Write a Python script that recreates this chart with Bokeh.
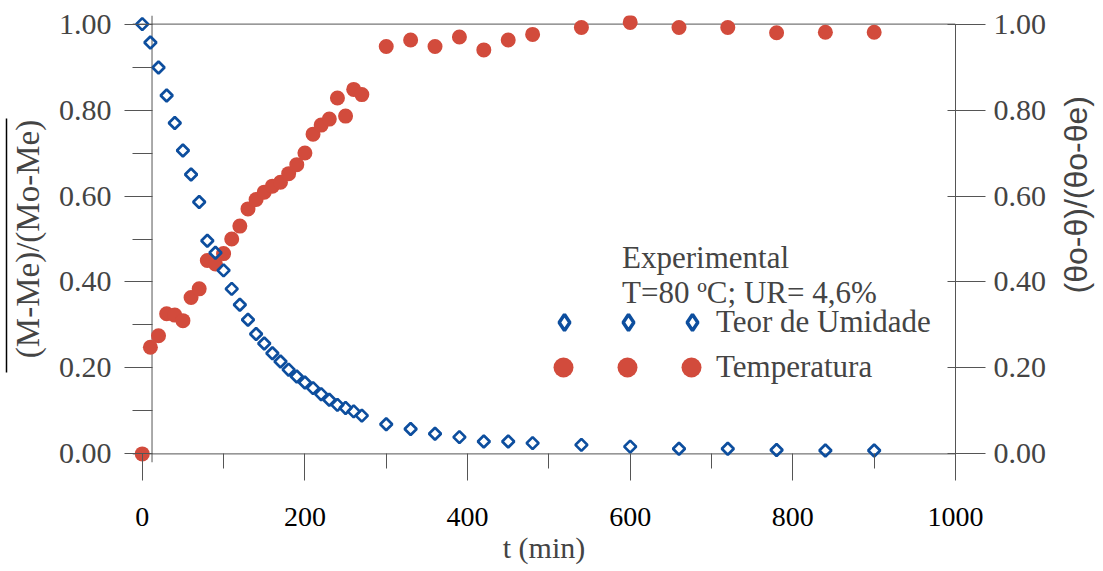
import math
from bokeh.plotting import figure
from bokeh.layouts import row
from bokeh.models import (LinearAxis, FixedTicker, NumeralTickFormatter, Span,
                          Label, Legend, LegendItem, Range1d)
from bokeh.embed import file_html
from bokeh.resources import INLINE

# ---------------- data ----------------
t_moist = [0, 10, 20, 30, 40, 50, 60, 70, 80, 90, 100, 110, 120, 130, 140, 150,
           160, 170, 180, 190, 200, 210, 220, 230, 240, 250, 260, 270,
           300, 330, 360, 390, 420, 450, 480, 540, 600, 660, 720, 780, 840, 900]
moisture = [1.000, 0.957, 0.899, 0.834, 0.770, 0.706, 0.650, 0.586, 0.496, 0.468,
            0.427, 0.384, 0.347, 0.312, 0.279, 0.257, 0.234, 0.215, 0.196, 0.180,
            0.166, 0.153, 0.139, 0.126, 0.114, 0.107, 0.099, 0.089,
            0.069, 0.058, 0.047, 0.039, 0.029, 0.029, 0.025, 0.021, 0.017,
            0.012, 0.012, 0.009, 0.008, 0.008]

t_temp = [0, 10, 20, 30, 40, 50, 60, 70, 80, 90, 100, 110, 120, 130, 140, 150,
          160, 170, 180, 190, 200, 210, 220, 230, 240, 250, 260, 270,
          300, 330, 360, 390, 420, 450, 480, 540, 600, 660, 720, 780, 840, 900]
temperature = [0.000, 0.248, 0.275, 0.326, 0.323, 0.310, 0.364, 0.384, 0.450, 0.442,
               0.466, 0.500, 0.530, 0.570, 0.592, 0.609, 0.623, 0.632, 0.652, 0.673,
               0.700, 0.744, 0.765, 0.779, 0.828, 0.786, 0.848, 0.836,
               0.948, 0.963, 0.948, 0.970, 0.940, 0.963, 0.976, 0.992, 1.004,
               0.992, 0.992, 0.980, 0.981, 0.981]

x_ticks = [0, 200, 400, 600, 800, 1000]
x_minor = [100, 300, 500, 700, 900]
y_ticks = [0.0, 0.2, 0.4, 0.6, 0.8, 1.0]
y_minor = [0.1, 0.3, 0.5, 0.7, 0.9]

series_names = ["Teor de Umidade", "Temperatura"]
header_lines = ["Experimental", "T=80 ºC; UR= 4,6%"]
left_title = "(M-Me)/(Mo-Me)"
right_title = "(θo-θ)/(θo-θe)"
x_title = "t (min)"

BLUE = "#0d4e9e"
RED = "#d24b3c"
SERIF = "Liberation Serif"
NAN = float("nan")

p = figure(width=1053, height=571, output_backend="svg", toolbar_location=None,
           x_range=Range1d(-12, 1000), y_range=Range1d(-0.02, 1.02),
           min_border_left=132, min_border_right=98, min_border_top=15,
           min_border_bottom=109)
p.grid.visible = False
p.outline_line_color = None
p.background_fill_color = "white"

# --- axes ---
xa = p.xaxis[0]
xa.ticker = FixedTicker(ticks=x_ticks, minor_ticks=x_minor)
xa.axis_line_color = None
xa.major_tick_in = 9
xa.major_tick_out = 18
xa.minor_tick_in = 9
xa.minor_tick_out = 6
xa.major_tick_line_color = "#555555"
xa.minor_tick_line_color = "#555555"
xa.major_label_text_font = SERIF
xa.major_label_text_font_size = "28px"
xa.major_label_text_color = "black"
xa.major_label_standoff = 27
xa.axis_label = x_title
xa.axis_label_text_font = SERIF
xa.axis_label_text_font_style = "normal"
xa.axis_label_text_font_size = "30px"
xa.axis_label_standoff = 2

ya = p.yaxis[0]
ya.ticker = FixedTicker(ticks=y_ticks, minor_ticks=y_minor)
ya.formatter = NumeralTickFormatter(format="0.00")
ya.axis_line_color = None
ya.major_tick_in = 20
ya.major_tick_out = 8
ya.minor_tick_in = 20
ya.minor_tick_out = 0
ya.major_tick_line_color = "#555555"
ya.minor_tick_line_color = "#555555"
ya.major_label_text_font = SERIF
ya.major_label_text_font_size = "30px"
ya.major_label_standoff = 13
ya.axis_label = left_title
ya.axis_label_text_font = SERIF
ya.axis_label_text_font_style = "normal"
ya.axis_label_text_font_size = "33px"
ya.axis_label_standoff = 10

# overline of the left label (fraction bar)
bar = LinearAxis(ticker=FixedTicker(ticks=[]), bounds=(0.19, 0.78),
                 axis_line_color="black", axis_line_width=1.5,
                 major_tick_line_color=None, minor_tick_line_color=None)
p.add_layout(bar, "left")

ra = LinearAxis(ticker=FixedTicker(ticks=y_ticks, minor_ticks=[]),
                formatter=NumeralTickFormatter(format="0.00"), bounds=(0, 1))
ra.axis_line_color = "#555555"
ra.major_tick_in = 8
ra.major_tick_out = 30
ra.major_tick_line_color = "#555555"
ra.minor_tick_line_color = None
ra.major_label_text_font = SERIF
ra.major_label_text_font_size = "30px"
ra.major_label_standoff = 8
p.add_layout(ra, "right")

# frame lines
p.add_layout(Span(location=12, dimension="height", line_color="#555555",
                  line_width=1, level="underlay"))
p.add_layout(Span(location=0, dimension="width", line_color="#555555",
                  line_width=1, level="underlay"))
p.add_layout(Span(location=1.0, dimension="width", line_color="#555555",
                  line_width=1, level="underlay"))

# --- data ---
p.scatter(t_temp, temperature, marker="circle", size=15, fill_color=RED,
          line_color=None)
p.scatter(t_moist, moisture, marker="square", size=8.5, angle=math.pi / 4,
          fill_color=None, line_color=BLUE, line_width=2.7)

# --- legend (legend-only renderers, nothing drawn in the frame) ---
leg_d = p.scatter([NAN], [NAN], marker="diamond", fill_color=None,
                  line_color=BLUE, line_width=3.5)
leg_c = p.scatter([NAN], [NAN], marker="circle", fill_color=RED,
                  line_color=None)

legA = Legend(items=[LegendItem(label=" ", renderers=[leg_d]),
                     LegendItem(label=" ", renderers=[leg_d]),
                     LegendItem(label=series_names[0], renderers=[leg_d])],
              orientation="horizontal", location=(412, 120),
              glyph_width=40, glyph_height=40, label_standoff=4, label_width=0,
              spacing=20, padding=0, margin=0, border_line_color=None,
              background_fill_alpha=0, label_text_font=SERIF,
              label_text_font_size="31px")
legB = Legend(items=[LegendItem(label=" ", renderers=[leg_c]),
                     LegendItem(label=" ", renderers=[leg_c]),
                     LegendItem(label=series_names[1], renderers=[leg_c])],
              orientation="horizontal", location=(406, 70),
              glyph_width=50, glyph_height=50, label_standoff=0, label_width=0,
              spacing=14, padding=0, margin=0, border_line_color=None,
              background_fill_alpha=0, label_text_font=SERIF,
              label_text_font_size="31px")
p.add_layout(legA)
p.add_layout(legB)

p.add_layout(Label(x=590, y=0.457, text=header_lines[0], text_font=SERIF,
                   text_font_size="31px", text_baseline="alphabetic"))
p.add_layout(Label(x=590, y=0.375, text=header_lines[1], text_font=SERIF,
                   text_font_size="31px", text_baseline="alphabetic"))

# --- narrow side panel carrying the right-hand title (reads bottom to top) ---
side = figure(width=50, height=571, output_backend="svg", toolbar_location=None,
              x_range=Range1d(0, 50), y_range=Range1d(0, 571),
              min_border=0, x_axis_type=None, y_axis_type=None)
side.grid.visible = False
side.outline_line_color = None
side.add_layout(Label(x=22, y=342, text=right_title, angle=math.pi / 2,
                      text_font="Liberation Sans", text_font_size="32px",
                      text_align="center", text_baseline="middle"))

layout = row(p, side)
open("out.html", "w").write(file_html(layout, INLINE))
